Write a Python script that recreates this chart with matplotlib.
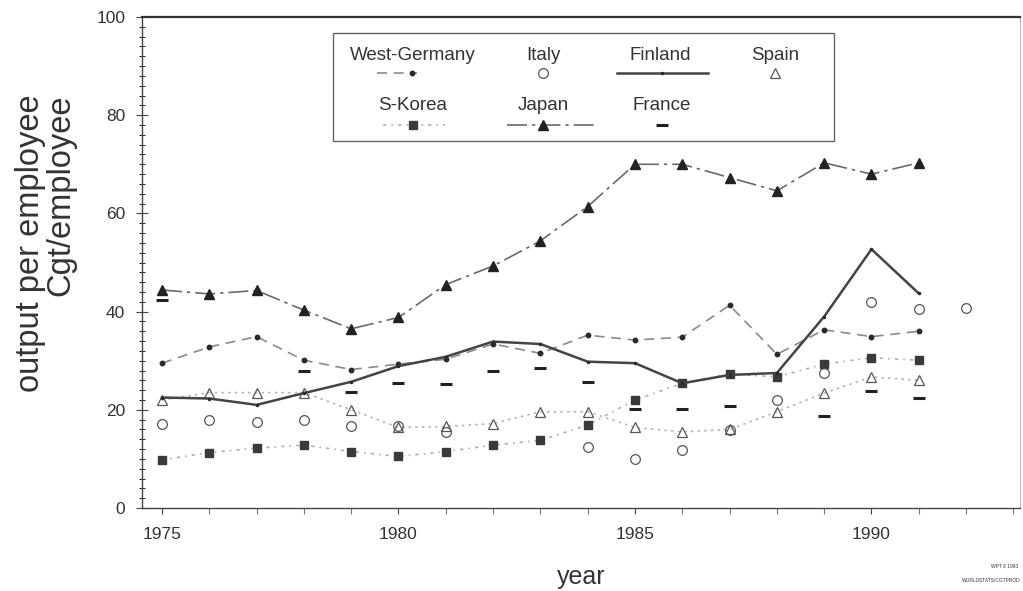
import numpy as np
import matplotlib
matplotlib.use("Agg")
import matplotlib.pyplot as plt
from matplotlib.lines import Line2D
from matplotlib.patches import Rectangle

plt.rcParams['font.family'] = ['Liberation Sans', 'DejaVu Sans']

nan = np.nan
years = list(range(1975, 1993))
west_germany = [29.5, 32.8, 34.9, 30.1, 28.2, 29.3, 30.3, 33.4, 31.5, 35.2, 34.2, 34.8, 41.3, 31.3, 36.3, 34.9, 36.0, nan]
italy = [17.2, 17.9, 17.6, 17.9, 16.6, 16.8, 15.5, nan, nan, 12.5, 9.9, 11.8, 15.9, 22.0, 27.4, 42.0, 40.5, 40.7]
finland = [22.5, 22.3, 21.0, 23.4, 25.7, 28.9, 30.8, 33.9, 33.4, 29.8, 29.5, 25.4, 27.1, 27.5, 39.0, 52.7, 43.7, nan]
spain = [22.0, 23.5, 23.5, 23.5, 20.0, 16.4, 16.6, 17.2, 19.6, 19.6, 16.4, 15.5, 16.0, 19.6, 23.4, 26.7, 26.0, nan]
s_korea = [9.8, 11.3, 12.2, 12.8, 11.5, 10.5, 11.5, 12.8, 13.8, 16.9, 22.0, 25.4, 27.3, 26.7, 29.3, 30.6, 30.1, nan]
japan = [44.4, 43.6, 44.3, 40.3, 36.5, 38.8, 45.5, 49.3, 54.4, 61.4, 70.0, 70.0, 67.3, 64.6, 70.3, 68.0, 70.3, nan]
france = [42.4, nan, nan, 27.9, 23.6, 25.4, 25.3, 28.0, 28.6, 25.7, 20.1, 20.1, 20.8, nan, 18.8, 23.8, 22.5, nan]

series_names = ["West-Germany", "Italy", "Finland", "Spain", "S-Korea", "Japan", "France"]
x_tick_labels = ["1975", "1980", "1985", "1990"]
y_tick_labels = ["0", "20", "40", "60", "80", "100"]

ink = '#2a2a2a'
styles = {
    "West-Germany": dict(color='#8a8a8a', ls=(0, (6, 4)), lw=1.2, marker='o', ms=3.2, mfc=ink, mec=ink),
    "Italy": dict(color='none', ls='none', marker='o', ms=7, mfc='none', mec='#555555', mew=0.9),
    "Finland": dict(color='#444444', ls='-', lw=1.8, marker='.', ms=3, mfc=ink, mec=ink),
    "Spain": dict(color='#b5b5b5', ls=(0, (1.5, 2.5)), lw=1.2, marker='^', ms=7, mfc='none', mec='#555555', mew=0.9),
    "S-Korea": dict(color='#b0b0b0', ls=(0, (2, 3, 1, 3)), lw=1.2, marker='s', ms=6, mfc='#3a3a3a', mec='#3a3a3a'),
    "Japan": dict(color='#6a6a6a', ls=(0, (12, 3, 2, 3)), lw=1.2, marker='^', ms=7, mfc='#222222', mec='#222222'),
    "France": dict(color='none', ls='none', marker='_', ms=8, mec='#222222', mew=2.2),
}
data = {"West-Germany": west_germany, "Italy": italy, "Finland": finland, "Spain": spain,
        "S-Korea": s_korea, "Japan": japan, "France": france}

fig = plt.figure(figsize=(10.23, 5.91), dpi=100)
ax = fig.add_axes([142/1023, 1-508/591, 878/1023, 491/591])

for name in ["Spain", "S-Korea", "West-Germany", "Japan", "Finland", "Italy", "France"]:
    ax.plot(years, data[name], **styles[name], zorder=3)

ax.set_xlim(1974.577, 1993.14)
ax.set_ylim(0, 100)
ax.set_xticks([1975, 1980, 1985, 1990])
ax.set_xticklabels(x_tick_labels)
ax.set_xticks(range(1975, 1994), minor=True)
ax.set_yticks([0, 20, 40, 60, 80, 100])
ax.set_yticklabels(y_tick_labels)
ax.set_yticks(np.arange(0, 101, 2), minor=True)
ax.tick_params(axis='both', which='major', labelsize=12.5, labelcolor='#333333', color='#444444')
ax.tick_params(axis='x', which='both', direction='out', length=4, width=0.8, pad=10)
ax.tick_params(axis='y', which='major', direction='inout', length=8, width=0.8, pad=8)
ax.tick_params(axis='y', which='minor', direction='inout', length=4, width=0.6)
ax.tick_params(axis='x', which='minor', color='#777777')
for side in ['left', 'bottom']:
    ax.spines[side].set_color('#444444')
    ax.spines[side].set_linewidth(1.0)
ax.spines['top'].set_color('#333333')
ax.spines['top'].set_linewidth(1.6)
ax.spines['right'].set_color('#bbbbbb')
ax.spines['right'].set_linewidth(0.8)

ax.set_xlabel("year", fontsize=18, color='#333333', labelpad=16)
ax.set_ylabel("output per employee\nCgt/employee", fontsize=23.5, color='#333333',
              linespacing=0.98)
ax.yaxis.label.set(ha='center', va='center', multialignment='right')
ax.yaxis.set_label_coords((46 - 142) / 878, (508 - 243) / 491)

# legend drawn manually: labels above handles
def axc(px, py):
    return ((px - 142) / 878, (508 - py) / 491)

x0, y0 = axc(333, 141)
x1, y1 = axc(834, 33)
ax.add_patch(Rectangle((x0, y0), x1 - x0, y1 - y0, transform=ax.transAxes,
                       facecolor='white', edgecolor='#666666', lw=1.0, zorder=5))

legend_layout = {
    "West-Germany": (413, 55, 73, 377, 417, 412),
    "Italy": (543, 55, 73, None, None, 543),
    "Finland": (660, 55, 73, 617, 708, 662),
    "Spain": (775, 55, 73, None, None, 775),
    "S-Korea": (413, 106, 125, 383, 445, 413),
    "Japan": (543, 106, 125, 507, 597, 543),
    "France": (662, 106, 125, None, None, 662),
}
for name in series_names:
    lx, ly, hy, hx0, hx1, mx = legend_layout[name]
    tx, ty = axc(lx, ly)
    ax.text(tx, ty, name, transform=ax.transAxes, ha='center', va='center',
            fontsize=13.5, color='#333333', zorder=6)
    st = dict(styles[name])
    _, hya = axc(0, hy)
    if hx0 is not None:
        a0, _ = axc(hx0, 0)
        a1, _ = axc(hx1, 0)
        ln = dict(st)
        ln['marker'] = 'none'
        ax.add_line(Line2D([a0, a1], [hya, hya], transform=ax.transAxes, zorder=6, **ln))
    mk = dict(st)
    mk['ls'] = 'none'
    ma, _ = axc(mx, 0)
    ax.add_line(Line2D([ma], [hya], transform=ax.transAxes, zorder=7, **mk))

fig.text(1018/1023, 1-566/591, "WPT 8 1993", fontsize=3.5, ha='right', va='center', color='#333333')
fig.text(1021/1023, 1-581/591, "WORLDSTATS/CGTPROD", fontsize=3.5, ha='right', va='center', color='#333333')

fig.savefig("out.png", dpi=100)
